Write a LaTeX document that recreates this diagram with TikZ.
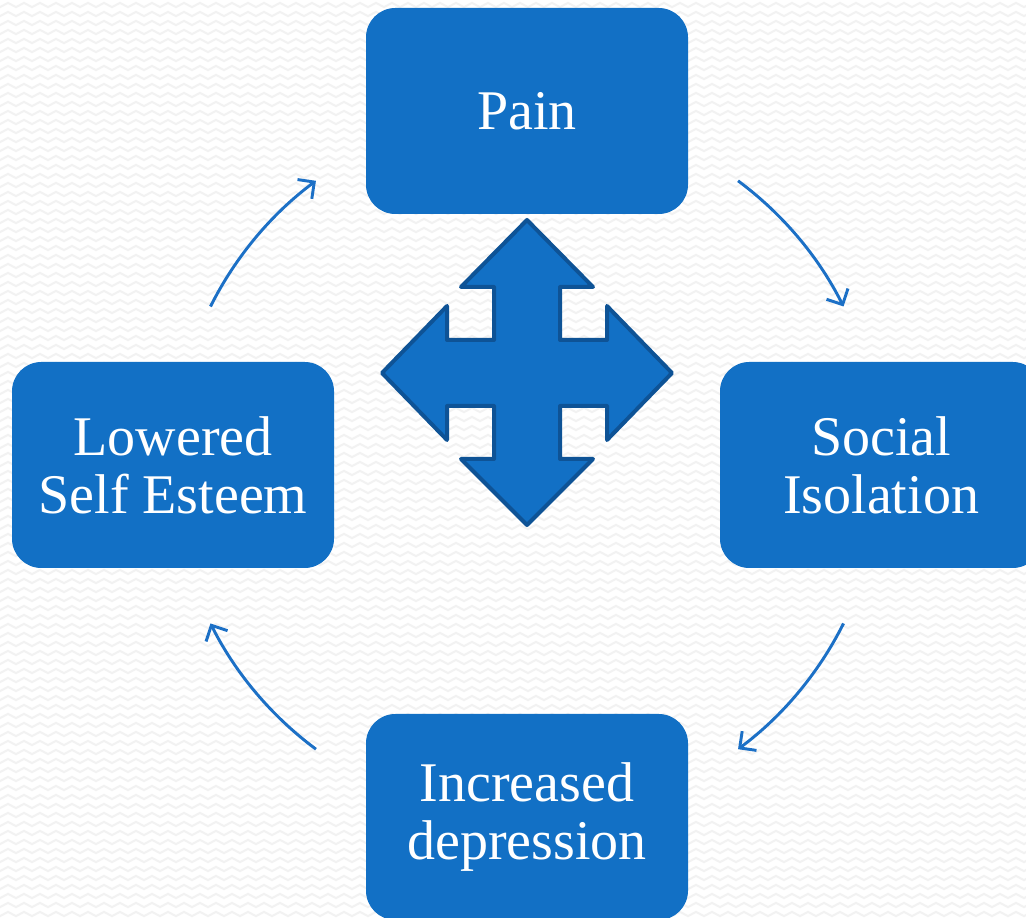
\documentclass[tikz,border=0pt]{standalone}
\usepackage{fontspec}
\setmainfont{Liberation Serif}
\usetikzlibrary{arrows.meta,decorations.pathmorphing}
\definecolor{boxblue}{HTML}{1270C5}
\definecolor{crossedge}{HTML}{0E5396}
\definecolor{arcblue}{HTML}{1C70C6}
\definecolor{zig}{HTML}{F2F2F2}
\tikzset{
  stepbox/.style={draw=none, fill=boxblue, rounded corners=22pt,
    minimum width=241.5pt, minimum height=154.5pt, text=white,
    align=center, font=\fontsize{42}{43.5}\selectfont, inner sep=0pt},
  cyclearrow/.style={draw=arcblue, line width=2.2pt,
    -{Straight Barb[length=9pt,width=18pt,line width=2.2pt]}},
  crossshape/.style={fill=boxblue, draw=crossedge, line width=3pt, line join=round},
  zigline/.style={draw=zig, line width=1.5pt,
    decorate, decoration={zigzag, segment length=12pt, amplitude=1.6pt}}
}
\begin{document}
\begin{tikzpicture}[x=0.75pt,y=0.75pt]
\useasboundingbox (0,0) rectangle (1026,918);
\clip (0,0) rectangle (1026,918);
\fill[white] (0,0) rectangle (1026,918);
\foreach \r in {0,...,102} {
  \draw[zigline] (-12,{4+9*\r}) -- (1040,{4+9*\r});
}
% boxes
\node[stepbox] (pain) at (527,807) {Pain};
\node[stepbox] (social) at (881,453) {Social\\Isolation};
\node[stepbox] (depr) at (527,101) {Increased\\depression};
\node[stepbox] (lowered) at (173,453) {Lowered\\Self Esteem};
% centre of the cycle
\coordinate (c) at (527,453);
\draw[cyclearrow] ([shift={(153.4:354)}]c) arc[start angle=153.4, end angle=126.6, radius=354];
\draw[cyclearrow] ([shift={(53.4:354)}]c) arc[start angle=53.4, end angle=26.6, radius=354];
\draw[cyclearrow] ([shift={(-26.6:354)}]c) arc[start angle=-26.6, end angle=-53.4, radius=354];
\draw[cyclearrow] ([shift={(-126.6:354)}]c) arc[start angle=-126.6, end angle=-153.4, radius=354];
% four-way arrow
\coordinate (x) at (527,545);
\path[crossshape, shift={(x)}]
  (0,153) -- (66,86) -- (33,86) -- (33,33) -- (80,33) -- (80,67) -- (145,0)
  -- (80,-67) -- (80,-33) -- (33,-33) -- (33,-86) -- (66,-86) -- (0,-152)
  -- (-66,-86) -- (-33,-86) -- (-33,-33) -- (-80,-33) -- (-80,-67) -- (-145,0)
  -- (-80,67) -- (-80,33) -- (-33,33) -- (-33,86) -- (-66,86) -- cycle;
\end{tikzpicture}
\end{document}
